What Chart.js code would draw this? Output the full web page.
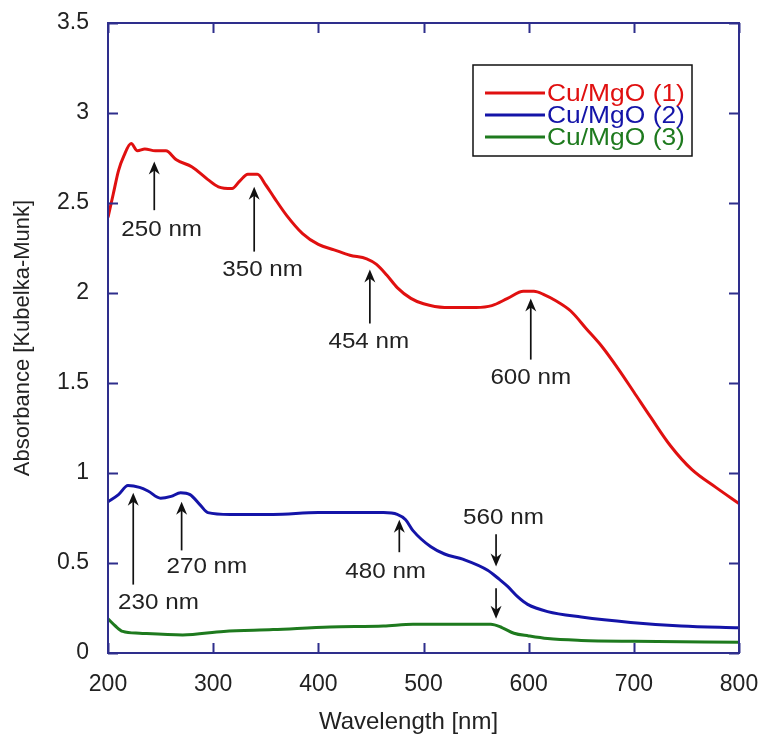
<!DOCTYPE html>
<html>
<head>
<meta charset="utf-8">
<script src="https://cdn.jsdelivr.net/npm/chart.js@4.4.1/dist/chart.umd.min.js"></script>
<style>
  html, body { margin: 0; padding: 0; background: #ffffff; }
  #wrap { width: 762px; height: 744px; }
</style>
</head>
<body>
<div id="wrap"><canvas id="c" width="762" height="744"></canvas></div>
<script>
// Diffuse-reflectance UV-Vis spectra of three Cu/MgO samples
const seriesNames = ['Cu/MgO (1)', 'Cu/MgO (2)', 'Cu/MgO (3)'];

const wavelength1 = [200, 205, 210, 215, 222, 228, 235, 245, 255, 265, 280, 295, 305, 318, 325, 333, 342, 350, 358, 370, 385, 400, 415, 430, 446, 455, 465, 475, 488, 500, 520, 550, 565, 580, 595, 605, 615, 625, 640, 655, 670, 685, 700, 716, 735, 755, 778, 800];
const absorbance1 = [2.42, 2.55, 2.68, 2.76, 2.83, 2.79, 2.80, 2.79, 2.79, 2.74, 2.70, 2.63, 2.59, 2.58, 2.62, 2.66, 2.66, 2.60, 2.53, 2.43, 2.33, 2.27, 2.24, 2.21, 2.19, 2.16, 2.10, 2.03, 1.97, 1.94, 1.92, 1.92, 1.93, 1.97, 2.01, 2.01, 1.99, 1.96, 1.90, 1.80, 1.70, 1.58, 1.45, 1.31, 1.15, 1.02, 0.92, 0.83];

const wavelength2 = [200, 210, 219, 230, 238, 250, 260, 269, 278, 288, 295, 316, 357, 400, 462, 475, 483, 490, 507, 520, 538, 561, 572, 580, 590, 599, 618, 650, 697, 745, 800];
const absorbance2 = [0.84, 0.88, 0.93, 0.92, 0.90, 0.86, 0.87, 0.89, 0.88, 0.82, 0.78, 0.77, 0.77, 0.78, 0.78, 0.77, 0.74, 0.68, 0.59, 0.55, 0.52, 0.46, 0.41, 0.37, 0.31, 0.27, 0.23, 0.20, 0.17, 0.15, 0.14];

const wavelength3 = [200, 207, 214, 230, 271, 310, 357, 411, 462, 490, 564, 575, 586, 600, 618, 650, 700, 800];
const absorbance3 = [0.19, 0.15, 0.12, 0.11, 0.10, 0.12, 0.13, 0.145, 0.15, 0.16, 0.16, 0.14, 0.11, 0.095, 0.08, 0.07, 0.065, 0.06];

const xTickValues = [200, 300, 400, 500, 600, 700, 800];
const yTickValues = [0, 0.5, 1, 1.5, 2, 2.5, 3, 3.5];

// Band assignments: label text, arrow (wavelength, from, to) and label anchor, all in data units
const bandLabels  = ['250 nm', '350 nm', '454 nm', '600 nm', '230 nm', '270 nm', '480 nm', '560 nm'];
const bandArrowX  = [244, 339, 449, 602, 224, 270, 477, 569];
const bandArrowFrom = [2.46, 2.23, 1.83, 1.63, 0.38, 0.57, 0.56, 0.66];
const bandArrowTo   = [2.73, 2.59, 2.13, 1.97, 0.89, 0.84, 0.74, 0.48];
const bandLabelX  = [251, 347, 448, 602, 248, 294, 464, 576];
const bandLabelY  = [2.35, 2.13, 1.73, 1.53, 0.28, 0.48, 0.45, 0.75];
// extra arrow pointing at the green curve shoulder
const extraArrowX = [569];
const extraArrowFrom = [0.36];
const extraArrowTo = [0.19];

const xTitle = 'Wavelength [nm]';

const colors = ['#e01010', '#1414a8', '#1e7a1e'];
const frameColor = '#2e2e8c';
const FONT = '"Liberation Sans", Arial, sans-serif';
const TEXT_STRETCH = 1.1;

const toPoints = (xs, ys) => xs.map((x, i) => ({ x: x, y: ys[i] }));

function drawArrow(ctx, x, y0, y1) {
  const dir = y1 < y0 ? 1 : -1;   // 1: pointing up
  const L = 13, W = 5.5, N = 4;
  ctx.beginPath();
  ctx.moveTo(x, y0);
  ctx.lineTo(x, y1 + dir * 4);
  ctx.stroke();
  ctx.beginPath();
  ctx.moveTo(x, y1);
  ctx.lineTo(x - W, y1 + dir * L);
  ctx.lineTo(x, y1 + dir * (L - N));
  ctx.lineTo(x + W, y1 + dir * L);
  ctx.closePath();
  ctx.fill();
}

// text drawn slightly widened to match the face of the axis labels
function wideText(ctx, text, x, y) {
  ctx.save();
  ctx.translate(x, y);
  ctx.scale(TEXT_STRETCH, 1);
  ctx.fillText(text, 0, 0);
  ctx.restore();
}

const decorations = {
  id: 'decorations',
  afterDatasetsDraw(chart) {
    const { ctx, chartArea: a, scales: { x, y } } = chart;
    ctx.save();

    // frame
    ctx.strokeStyle = frameColor;
    ctx.lineWidth = 2;
    ctx.strokeRect(a.left, a.top, a.right - a.left, a.bottom - a.top);

    // inward ticks on all four sides
    const T = 10;
    ctx.beginPath();
    xTickValues.forEach(v => {
      const px = Math.round(x.getPixelForValue(v)) + 0.5;
      ctx.moveTo(px, a.bottom); ctx.lineTo(px, a.bottom - T);
      ctx.moveTo(px, a.top); ctx.lineTo(px, a.top + T);
    });
    yTickValues.forEach(v => {
      const py = Math.round(y.getPixelForValue(v)) + 0.5;
      ctx.moveTo(a.left, py); ctx.lineTo(a.left + T, py);
      ctx.moveTo(a.right, py); ctx.lineTo(a.right - T, py);
    });
    ctx.stroke();

    // horizontal axis title, sitting a little left of centre
    ctx.font = '24px ' + FONT;
    ctx.fillStyle = '#222';
    ctx.textAlign = 'center';
    ctx.textBaseline = 'middle';
    ctx.fillText(xTitle, (a.left + a.right) / 2 - 15, a.bottom + 69);

    // band arrows and labels
    ctx.strokeStyle = '#111';
    ctx.fillStyle = '#111';
    ctx.lineWidth = 1.7;
    bandLabels.forEach((t, i) => {
      const px = x.getPixelForValue(bandArrowX[i]);
      drawArrow(ctx, px, y.getPixelForValue(bandArrowFrom[i]), y.getPixelForValue(bandArrowTo[i]));
    });
    extraArrowX.forEach((v, i) => {
      drawArrow(ctx, x.getPixelForValue(v), y.getPixelForValue(extraArrowFrom[i]), y.getPixelForValue(extraArrowTo[i]));
    });
    ctx.font = '22px ' + FONT;
    ctx.fillStyle = '#222';
    bandLabels.forEach((t, i) => {
      wideText(ctx, t, x.getPixelForValue(bandLabelX[i]), y.getPixelForValue(bandLabelY[i]));
    });

    // legend box
    const bx = a.right - 266, by = a.top + 42, bw = 219, bh = 91;
    ctx.strokeStyle = '#111';
    ctx.lineWidth = 1.5;
    ctx.strokeRect(bx, by, bw, bh);
    ctx.textAlign = 'left';
    ctx.font = '24px ' + FONT;
    chart.data.datasets.forEach((ds, i) => {
      const ry = by + 28 + i * 22;
      ctx.strokeStyle = ds.borderColor;
      ctx.lineWidth = 3;
      ctx.beginPath();
      ctx.moveTo(bx + 12, ry);
      ctx.lineTo(bx + 72, ry);
      ctx.stroke();
      ctx.fillStyle = ds.borderColor;
      wideText(ctx, ds.label, bx + 74, ry + 1);
    });

    ctx.restore();
  }
};

const datasets = [
  [wavelength1, absorbance1],
  [wavelength2, absorbance2],
  [wavelength3, absorbance3]
].map(([xs, ys], i) => ({
  label: seriesNames[i],
  data: toPoints(xs, ys),
  borderColor: colors[i],
  backgroundColor: colors[i],
  borderWidth: 3,
  pointRadius: 0,
  cubicInterpolationMode: 'monotone',
  fill: false
}));

const tickFont = { family: FONT, size: 23 };

new Chart(document.getElementById('c'), {
  type: 'line',
  data: { datasets: datasets },
  options: {
    responsive: false,
    animation: false,
    devicePixelRatio: 1,
    layout: { padding: { top: 23, right: 23, left: 0, bottom: 0 } },
    plugins: { legend: { display: false }, tooltip: { enabled: false } },
    scales: {
      x: {
        type: 'linear',
        min: 200, max: 800,
        afterBuildTicks: s => { s.ticks = xTickValues.map(v => ({ value: v })); },
        afterFit: s => { s.height = 91; s.paddingLeft = 0; s.paddingRight = 0; },
        grid: { display: false, drawTicks: false },
        border: { display: false },
        ticks: { font: tickFont, color: '#222', padding: 18, maxRotation: 0, autoSkip: false, callback: v => String(v) },
        title: { display: false }
      },
      y: {
        type: 'linear',
        min: 0, max: 3.5,
        afterBuildTicks: s => { s.ticks = yTickValues.map(v => ({ value: v })); },
        afterFit: s => { s.width = 108; s.paddingTop = 0; s.paddingBottom = 0; },
        grid: { display: false, drawTicks: false },
        border: { display: false },
        ticks: { font: tickFont, color: '#222', padding: 19, autoSkip: false, callback: v => String(v) },
        title: { display: true, text: 'Absorbance [Kubelka-Munk]', font: { family: FONT, size: 22 }, color: '#222', padding: { top: 10, bottom: 0 } }
      }
    }
  },
  plugins: [decorations]
});
</script>
</body>
</html>
